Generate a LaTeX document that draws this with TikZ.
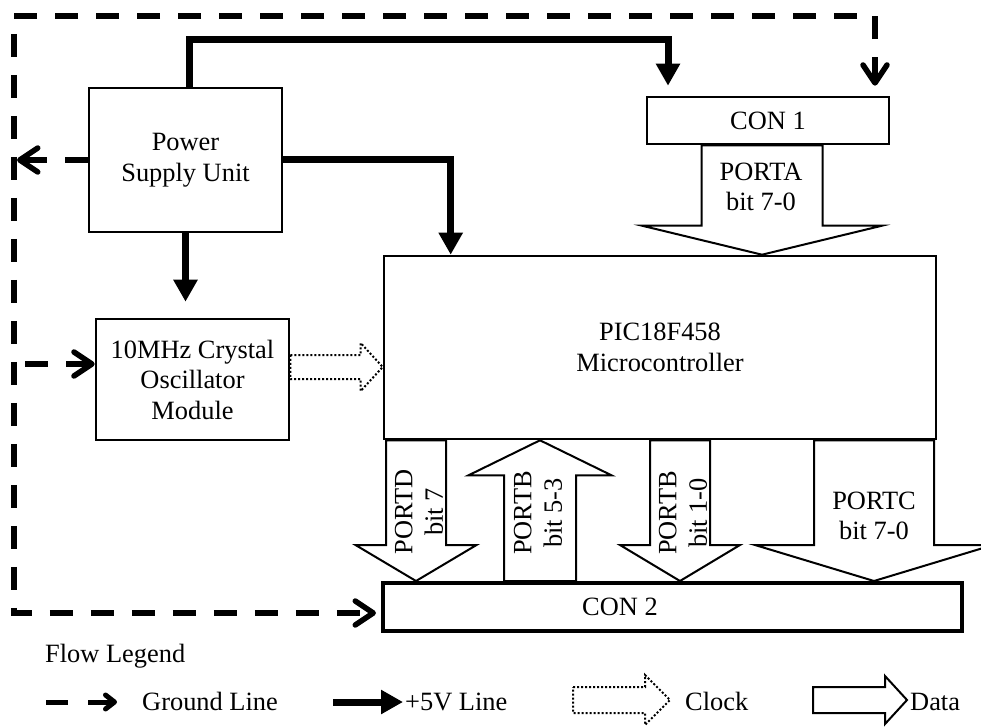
\documentclass[tikz,border=0pt]{standalone}
\usepackage{fontspec}
\setmainfont{Liberation Serif}
\usetikzlibrary{arrows.meta, calc}

% hollow block arrow: [style]{from}{to}{shaft half width}{head half width}{head length}
\newcommand{\blockarrow}[6][data]{%
  \path ($(#3)!#6pt!(#2)$) coordinate (hb);
  \draw[#1] ($(#2)!#4pt!90:(#3)$) -- ($(hb)!#4pt!90:(#3)$) -- ($(hb)!#5pt!90:(#3)$) -- (#3)
    -- ($(hb)!#5pt!-90:(#3)$) -- ($(hb)!#4pt!-90:(#3)$) -- ($(#2)!#4pt!-90:(#3)$) -- cycle;
}

\begin{document}
\begin{tikzpicture}[x=1pt, y=-1pt,
    font=\fontsize{26.4pt}{30.5pt}\selectfont,
    box/.style={draw, line width=2.6pt, align=center, inner sep=0pt},
    txt/.style={align=center, inner sep=0pt},
    gtip/.tip={Straight Barb[length=18pt, width=24pt, round]},
    gnd/.style={line width=5.5pt, dash pattern=on 23pt off 18pt},
    pwr/.style={line width=7pt, -{Triangle[length=22pt, width=23pt]}},
    clk/.style={draw, line width=2pt, dash pattern=on 2pt off 2pt, fill=white},
    data/.style={draw, line width=2pt, fill=white}
]
\useasboundingbox (0,0) rectangle (981,727);
\clip (0,0) rectangle (981,727);

\node[box, minimum width=193, minimum height=144] (psu) at (185.5,160) {Power\\Supply Unit};
\node[box, minimum width=193, minimum height=121] (osc) at (192.5,379.5) {10MHz Crystal\\Oscillator\\Module};
\node[box, minimum width=552, minimum height=183] (pic) at (660,347.5) {PIC18F458\\Microcontroller};
\node[box, minimum width=242, minimum height=47] (con1) at (768,120.5) {CON 1};
\node[box, line width=4pt, minimum width=579, minimum height=48] (con2) at (672.5,607) {};
\node[txt] (con2txt) at (620,607) {CON 2};

% ground
\draw[gnd, gtip-gtip, shorten <=10pt, shorten >=5pt] (875,0 |- con1.north) -- (875,16) -- (14,16) -- (14,613) -- (con2.west |- 0,613);
\draw[gnd, -gtip, shorten >=3pt] (psu.west) -- (14,0 |- psu.west);
\draw[gnd, -gtip, shorten <=11pt] (14,364) -- (osc.west |- 0,364);

% +5V
\draw[pwr, shorten >=10pt] ([xshift=4]psu.north) |- (668,40) -- (con1.north -| 668,0);
\draw[pwr] (psu.east) -| ([xshift=68]pic.north west);
\draw[pwr, shorten >=16pt] (psu.south) -- (psu.south |- osc.north);

% clock
\coordinate (ck1) at (osc.east |- 0,367);
\coordinate (ck2) at (pic.west |- 0,367);
\blockarrow[clk]{ck1}{ck2}{12}{24}{22}

% data
\coordinate (pa1) at (762,0 |- con1.south);
\coordinate (pa2) at (762,0 |- pic.north);
\blockarrow{pa1}{pa2}{60.5}{120}{29}
\coordinate (pd1) at (416,0 |- pic.south);
\coordinate (pd2) at (416,0 |- con2.north);
\blockarrow{pd1}{pd2}{30}{60.5}{36}
\coordinate (pb1) at (540,0 |- con2.north);
\coordinate (pb2) at (540,0 |- pic.south);
\blockarrow{pb1}{pb2}{36}{71.5}{35}
\coordinate (pe1) at (680,0 |- pic.south);
\coordinate (pe2) at (680,0 |- con2.north);
\blockarrow{pe1}{pe2}{30}{60}{36}
\coordinate (pc1) at (874,0 |- pic.south);
\coordinate (pc2) at (874,0 |- con2.north);
\blockarrow{pc1}{pc2}{60}{119}{36}

\node[txt] (patxt) at (761,187) {PORTA\\bit 7-0};
\node[txt, rotate=90] (pdtxt) at (419,512) {PORTD\\bit 7};
\node[txt, rotate=90] (pbtxt) at (538,513) {PORTB\\bit 5-3};
\node[txt, rotate=90] (petxt) at (683,513) {PORTB\\bit 1-0};
\node[txt] (pctxt) at (874,516) {PORTC\\bit 7-0};

% legend
\node[anchor=base west, inner sep=0pt] (lflow) at (45,662) {Flow Legend};
\node[anchor=base west, inner sep=0pt] (lgnd) at (142,710) {Ground Line};
\node[anchor=base west, inner sep=0pt] (lpwr) at (405,710) {+5V Line};
\node[anchor=base west, inner sep=0pt] (lclk) at (685,710) {Clock};
\node[anchor=base west, inner sep=0pt] (ldat) at (910,710) {Data};

\draw[line width=5pt, dash pattern=on 22pt off 20pt, -{Straight Barb[length=9pt, width=14pt, round]}] (46,702) -- (117,702);
\draw[pwr] (333,702) -- (403,702);
\coordinate (lc1) at (573,700);
\coordinate (lc2) at (670,700);
\blockarrow[clk]{lc1}{lc2}{13}{25}{25}
\coordinate (ld1) at (813,700);
\coordinate (ld2) at (907,700);
\blockarrow{ld1}{ld2}{13}{24}{22}
\end{tikzpicture}
\end{document}
